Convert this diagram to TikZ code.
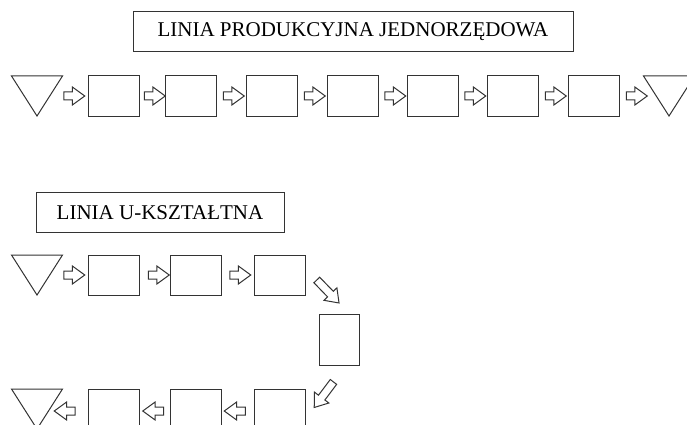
\documentclass[tikz,border=0pt]{standalone}
\usepackage{fontspec}
\setmainfont{Liberation Serif}
\usetikzlibrary{shapes.arrows}

\tikzset{
  ink/.style={draw=black!80, line width=1pt},
  station/.style={ink, rectangle, minimum width=51pt, minimum height=40pt, inner sep=0pt},
  titlebox/.style={ink, rectangle, minimum height=40pt, inner sep=0pt,
    font=\fontsize{21}{24}\selectfont},
  flowarrow/.style={ink, single arrow, minimum height=21pt,
    inner xsep=0pt, inner ysep=3.5pt, single arrow head extend=5pt,
    single arrow tip angle=72},
  buffer/.pic={\draw[ink] (-25.5,-20) -- (25.5,-20) -- (0,20) -- cycle;}
}

\begin{document}
\begin{tikzpicture}[x=1pt, y=-1pt]
  \useasboundingbox (0,0) rectangle (687,425);
  \clip (0,0) rectangle (687,425);
  %straight line
  \node[titlebox, minimum width=440pt] (title1) at (353,32) {LINIA PRODUKCYJNA JEDNORZĘDOWA};
  \pic at (37,96) {buffer};
  \pic at (669,96) {buffer};
  \foreach \x [count=\i] in {113.5,190.5,271.5,352.5,432.5,512.5,593.5}
    \node[station] (s\i) at (\x,96) {};
  \foreach \x [count=\i] in {71.5,152,231,312,392.5,472.5,553,634}
    \node[flowarrow] (a\i) at (\x,96) {};
  %u-shaped line
  \node[titlebox, minimum width=248pt] (title2) at (160,212.5) {LINIA U-KSZTAŁTNA};
  \pic at (37,275) {buffer};
  \foreach \x [count=\i] in {113.5,195.5,279.5}
    \node[station] (u\i) at (\x,275) {};
  \foreach \x [count=\i] in {71.5,156,237.5}
    \node[flowarrow] (ua\i) at (\x,275) {};
  \node[flowarrow, minimum height=32pt, rotate=-46] (turn1) at (326,289.5) {};
  \node[station, minimum width=40pt, minimum height=51pt] (u4) at (339,339.5) {};
  \node[flowarrow, minimum height=32pt, rotate=-127] (turn2) at (325.5,392.5) {};
  %return row
  \foreach \x [count=\i] in {279.5,195.5,113.5}
    \node[station] (d\i) at (\x,409) {};
  \foreach \x [count=\i] in {237.5,156,67.5}
    \node[flowarrow, rotate=180] (da\i) at (\x,411) {};
  \pic at (37,409) {buffer};
\end{tikzpicture}
\end{document}
